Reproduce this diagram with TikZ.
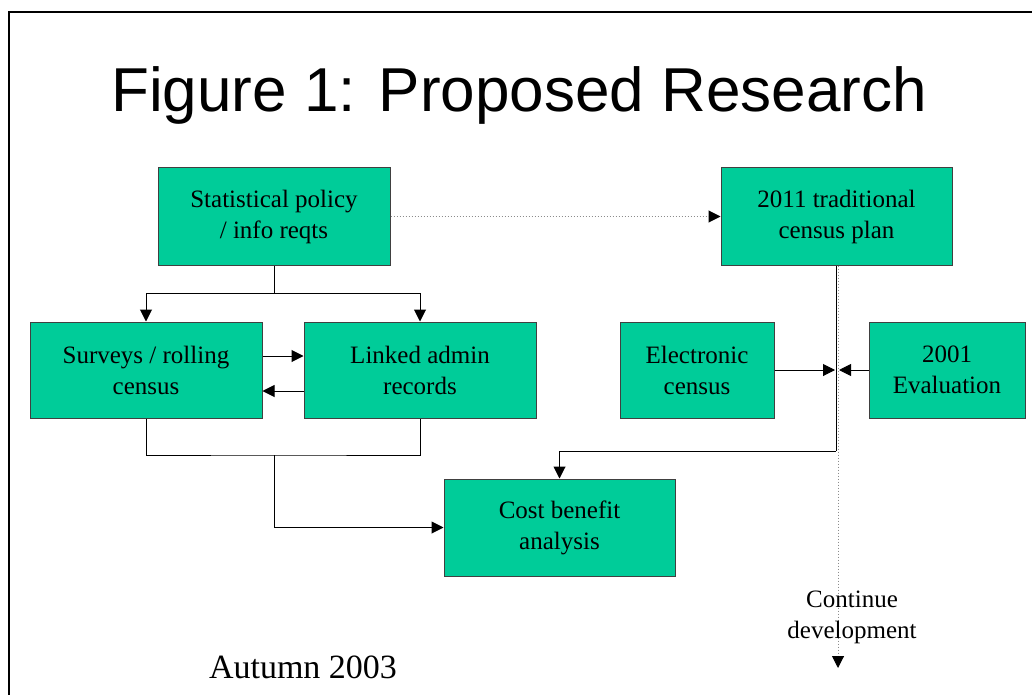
\documentclass[tikz,border=0pt]{standalone}
\usepackage{fontspec}
\setmainfont{Liberation Serif}
\newfontfamily\titlefont{Liberation Sans}
\usetikzlibrary{arrows.meta}
\definecolor{boxgreen}{RGB}{0,204,153}
\tikzset{
  gbox/.style={rectangle, fill=boxgreen, draw=black!75, line width=1pt, align=center,
    inner sep=0pt, font=\fontsize{25}{31}\selectfont},
  conn/.style={draw=black, line width=1pt},
  arr/.style={conn, -{Triangle[length=12pt,width=12pt]}},
  dotconn/.style={draw=black!45, line width=1pt, dotted},
  dotarr/.style={dotconn, -{Triangle[length=12pt,width=12pt,color=black]}},
}
\begin{document}
\begin{tikzpicture}[x=1pt,y=-1pt]
\useasboundingbox (0,0) rectangle (1032,695);
\fill[white] (0,0) rectangle (1032,695);
\draw[line width=2pt] (9,1040) -- (9,12) -- (1040,12);

\node[font=\titlefont\fontsize{62}{70}\selectfont, anchor=base] (title) at (519,112) {Figure 1: Proposed Research};

\node[gbox, minimum width=232pt, minimum height=97pt] (stat) at (274,216.5) {Statistical policy\\/ info reqts};
\node[gbox, minimum width=231pt, minimum height=97pt] (trad) at (836.5,216.5) {2011 traditional\\census plan};
\node[gbox, minimum width=232pt, minimum height=96pt] (surv) at (146,370) {Surveys / rolling\\census};
\node[gbox, minimum width=232pt, minimum height=96pt] (link) at (420,370) {Linked admin\\records};
\node[gbox, minimum width=154pt, minimum height=96pt] (elec) at (697,370) {Electronic\\census};
\node[gbox, minimum width=156pt, minimum height=96pt] (eval) at (947,370) {2001\\Evaluation};
\node[gbox, minimum width=231pt, minimum height=97pt] (cost) at (559.5,527.5) {Cost benefit\\analysis};

\coordinate (split) at (274,293);
\coordinate (merge) at (274,455);
\coordinate (turn) at (836,451);
\coordinate (join) at (836,370);
\coordinate (dend) at (838,668);

% top split
\draw[conn] (stat.south) -- (split);
\draw[arr] (split) -| (surv.north);
\draw[arr] (split) -| (link.north);

% between surveys and linked
\draw[arr] ([yshift=14pt]surv.east) -- ([yshift=14pt]link.west);
\draw[arr] ([yshift=-21pt]link.west) -- ([yshift=-21pt]surv.east);

% merge to cost
\draw[conn] (surv.south) |- (merge) -| (link.south);
\draw[arr] (merge) |- (cost.west);

% dotted policy -> plan
\draw[dotarr] (stat.east) -- (trad.west);

% plan -> cost
\draw[conn] ([xshift=-0.5pt]trad.south) -- (turn);
\draw[arr] (turn) -| (cost.north);

% dotted continue
\draw[dotarr] ([xshift=1.5pt]trad.south) -- (dend);

% side inputs
\draw[arr] (elec.east) -- ([xshift=-1pt]join);
\draw[arr] (eval.west) -- ([xshift=3pt]join);

\node[font=\fontsize{25}{31}\selectfont, align=center, anchor=base] (cont) at (852,638) {Continue\\development};
\node[font=\fontsize{34}{40}\selectfont, anchor=base] (autumn) at (303,678) {Autumn 2003};
\end{tikzpicture}
\end{document}
